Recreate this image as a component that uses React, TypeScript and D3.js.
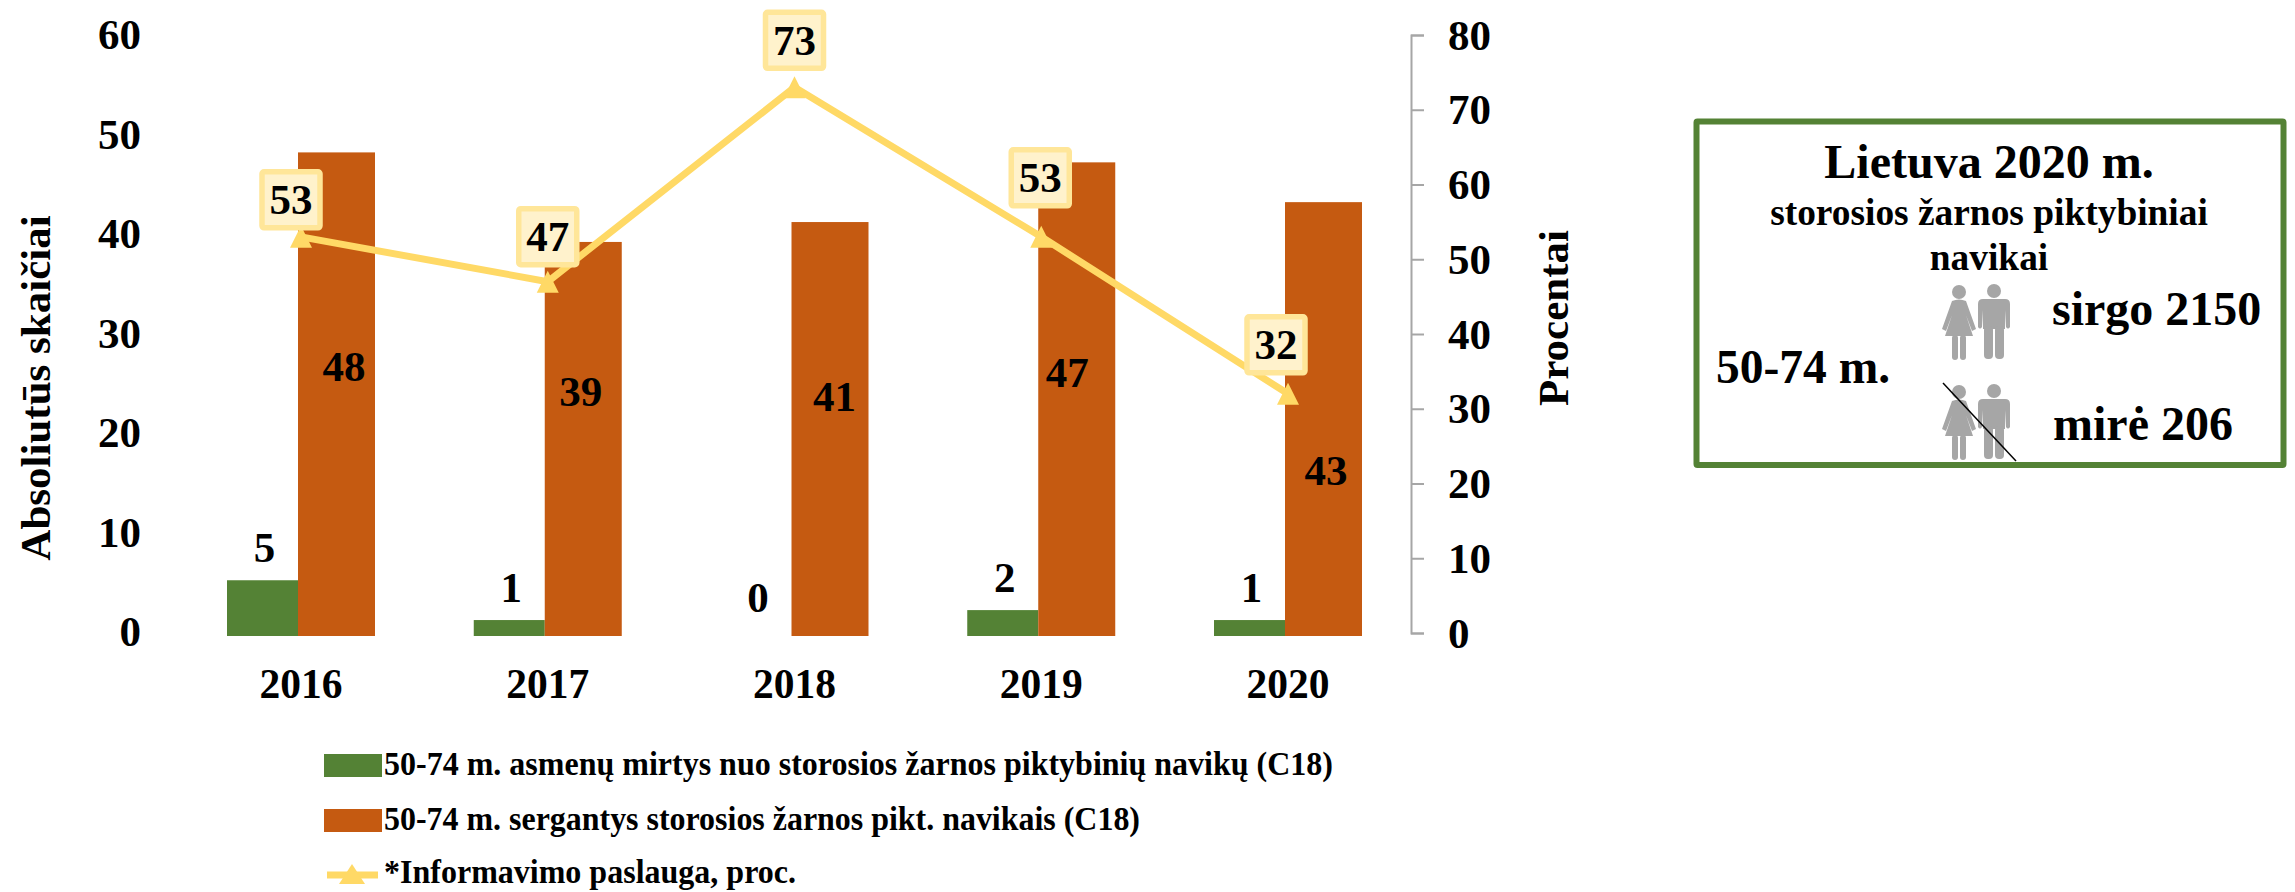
import React, { useEffect, useRef } from 'react';
import * as d3 from 'd3';

const years = ['2016', '2017', '2018', '2019', '2020'];
const deaths = [5, 1, 0, 2, 1];
const patients = [48, 39, 41, 47, 43];
const informing = [53, 47, 73, 53, 32];
const leftTicks = [0, 10, 20, 30, 40, 50, 60];
const rightTicks = [0, 10, 20, 30, 40, 50, 60, 70, 80];
const legendNames = [
  '50-74 m. asmenų mirtys nuo storosios žarnos piktybinių navikų (C18)',
  '50-74 m. sergantys storosios žarnos pikt. navikais (C18)',
  '*Informavimo paslauga, proc.',
];

const GREEN = '#548235';
const ORANGE = '#c55a11';
const YELLOW = '#ffd966';
const GREY = '#a6a6a6';
const FONT = '"Liberation Serif", serif';

// hand placed labels, as in the original: [dx, dy] from the point they belong to
const patientLabelPos = [[8, 214], [-2, 150], [5, 175], [-9, 210], [3, 269]];
const boxPos = [[-10, -37], [0, -45], [0, -47], [-1, -59], [-12, -49]];

const x = d3.scalePoint<string>().domain(years).range([301, 1288]);
const yLeft = d3.scaleLinear().domain([0, 60]).range([630, 33]);
const yRight = d3.scaleLinear().domain([0, 80]).range([633, 35]);
const BASE = 636;

// excel style marker: centred on the point by its box, not by its centroid
const markerPath = 'M0,-11 L11,11 L-11,11 Z';
const legendMarkerPath = 'M0,-11 L13,9 L-13,9 Z';

function person(g: any, cx: number, top: number, woman: boolean) {
  const p = g.append('g').attr('transform', `translate(${cx},${top})`).attr('fill', GREY);
  p.append('circle').attr('cx', 0).attr('cy', 7).attr('r', 7);
  if (woman) {
    p.append('path').attr('d', 'M-7,16 Q0,13 7,16 L17,44 L13,46 L7,30 L14,51 L-14,51 L-7,30 L-13,46 L-17,44 Z');
    p.append('rect').attr('x', -7).attr('y', 50).attr('width', 6).attr('height', 25).attr('rx', 3);
    p.append('rect').attr('x', 1).attr('y', 50).attr('width', 6).attr('height', 25).attr('rx', 3);
  } else {
    p.append('path').attr('d', 'M-11,15 L11,15 Q16,15 16,20 L16,43 Q14,46 12,43 L11,26 L11,45 L-11,45 L-11,26 L-12,43 Q-14,46 -16,43 L-16,20 Q-16,15 -11,15 Z');
    p.append('rect').attr('x', -10).attr('y', 42).attr('width', 9).attr('height', 33).attr('rx', 4);
    p.append('rect').attr('x', 1).attr('y', 42).attr('width', 9).attr('height', 33).attr('rx', 4);
  }
}

export default function App() {
  const ref = useRef<SVGSVGElement>(null);

  useEffect(() => {
    const svg = d3.select(ref.current);
    svg.selectAll('*').remove();
    svg.attr('font-family', FONT).attr('font-weight', 'bold').attr('fill', '#000');

    // bars
    svg.selectAll('.death').data(deaths).join('rect')
      .attr('x', (d, i) => x(years[i])! - 3 - 71)
      .attr('width', 71)
      .attr('y', d => yLeft(d))
      .attr('height', d => (d === 0 ? 0 : BASE - yLeft(d)))
      .attr('fill', GREEN);
    svg.selectAll('.patient').data(patients).join('rect')
      .attr('x', (d, i) => x(years[i])! - 3)
      .attr('width', 77)
      .attr('y', d => yLeft(d))
      .attr('height', d => BASE - yLeft(d))
      .attr('fill', ORANGE);

    // left axis labels
    svg.selectAll('.lt').data(leftTicks).join('text')
      .attr('x', 141).attr('y', d => yLeft(d) + 2)
      .attr('dy', '0.33em').attr('text-anchor', 'end').attr('font-size', 43)
      .text(d => d);

    // right axis
    const right = svg.append('g').attr('transform', 'translate(1411,0)')
      .call(d3.axisRight(yRight).tickValues(rightTicks).tickSize(13).tickSizeOuter(13).tickPadding(24) as any);
    right.select('.domain').attr('stroke', GREY).attr('stroke-width', 2);
    right.selectAll('line').attr('stroke', GREY).attr('stroke-width', 2);
    right.selectAll('text')
      .attr('font-family', FONT).attr('font-size', 43).attr('fill', '#000').attr('dy', '0.33em');

    // x labels
    svg.selectAll('.xl').data(years).join('text')
      .attr('x', d => x(d)!).attr('y', 698)
      .attr('text-anchor', 'middle').attr('font-size', 41.5)
      .text(d => d);

    // axis titles
    svg.append('text').attr('transform', 'translate(50,388) rotate(-90)')
      .attr('text-anchor', 'middle').attr('font-size', 43).text('Absoliutūs skaičiai');
    svg.append('text').attr('transform', 'translate(1568,318) rotate(-90)')
      .attr('text-anchor', 'middle').attr('font-size', 43).text('Procentai');

    // bar labels
    svg.selectAll('.dl').data(deaths).join('text')
      .attr('x', (d, i) => x(years[i])! - 3 - 71 / 2 + 2)
      .attr('y', d => yLeft(d) - 32)
      .attr('dy', '0.33em').attr('text-anchor', 'middle').attr('font-size', 43)
      .text(d => d);
    svg.selectAll('.pl').data(patients).join('text')
      .attr('x', (d, i) => x(years[i])! - 3 + 38 + patientLabelPos[i][0])
      .attr('y', (d, i) => yLeft(d) + patientLabelPos[i][1])
      .attr('dy', '0.33em').attr('text-anchor', 'middle').attr('font-size', 43)
      .text(d => d);

    // line
    const line = d3.line<number>().x((d, i) => x(years[i])!).y(d => yRight(d));
    svg.append('path').datum(informing).attr('d', line as any)
      .attr('fill', 'none').attr('stroke', YELLOW).attr('stroke-width', 7);
    svg.selectAll('.mark').data(informing).join('path')
      .attr('d', markerPath)
      .attr('transform', (d, i) => `translate(${x(years[i])},${yRight(d)})`)
      .attr('fill', YELLOW);

    // value boxes
    const boxes = svg.selectAll('.box').data(informing).join('g')
      .attr('transform', (d, i) => `translate(${x(years[i])! + boxPos[i][0]},${yRight(d) + boxPos[i][1]})`);
    boxes.append('rect').attr('x', -29).attr('y', -28).attr('width', 58).attr('height', 56)
      .attr('rx', 2).attr('fill', '#fff2cc').attr('stroke', '#ffe699').attr('stroke-width', 5.5);
    boxes.append('text').attr('dy', '0.34em').attr('text-anchor', 'middle').attr('font-size', 43)
      .text(d => d);

    // legend
    const legendY = [775, 830, 883];
    const legendW = [949, 756, 412];
    svg.selectAll('.lg').data(legendNames).join('text')
      .attr('x', 384).attr('y', (d, i) => legendY[i]).attr('font-size', 33)
      .attr('textLength', (d, i) => legendW[i]).attr('lengthAdjust', 'spacingAndGlyphs')
      .text(d => d);
    svg.append('rect').attr('x', 324).attr('y', 754).attr('width', 58).attr('height', 23).attr('fill', GREEN);
    svg.append('rect').attr('x', 324).attr('y', 809).attr('width', 58).attr('height', 23).attr('fill', ORANGE);
    svg.append('line').attr('x1', 327).attr('x2', 378).attr('y1', 875).attr('y2', 875)
      .attr('stroke', YELLOW).attr('stroke-width', 7);
    svg.append('path').attr('d', legendMarkerPath).attr('transform', 'translate(352,875)').attr('fill', YELLOW);

    // info box
    const info = svg.append('g');
    info.append('rect').attr('x', 1696.5).attr('y', 121.5).attr('width', 587).attr('height', 343.5)
      .attr('rx', 1).attr('fill', '#fff').attr('stroke', GREEN).attr('stroke-width', 6);
    info.append('text').attr('x', 1989).attr('y', 178).attr('text-anchor', 'middle').attr('font-size', 48).text('Lietuva 2020 m.');
    info.append('text').attr('x', 1989).attr('y', 225).attr('text-anchor', 'middle').attr('font-size', 37.4).text('storosios žarnos piktybiniai');
    info.append('text').attr('x', 1989).attr('y', 270).attr('text-anchor', 'middle').attr('font-size', 37.4).text('navikai');
    info.append('text').attr('x', 1716).attr('y', 383).attr('font-size', 47.5).text('50-74 m.');
    info.append('text').attr('x', 2052).attr('y', 325).attr('font-size', 48).text('sirgo 2150');
    info.append('text').attr('x', 2053).attr('y', 440).attr('font-size', 48).text('mirė 206');
    person(info, 1959, 285, true);
    person(info, 1994, 284, false);
    person(info, 1959, 385, true);
    person(info, 1994, 384, false);
    info.append('line').attr('x1', 1943).attr('y1', 383).attr('x2', 2016).attr('y2', 461)
      .attr('stroke', '#000').attr('stroke-width', 1.5);
  }, []);

  return <svg ref={ref} width={2295} height={892} style={{ position: 'absolute', left: 0, top: 0 }} />;
}
